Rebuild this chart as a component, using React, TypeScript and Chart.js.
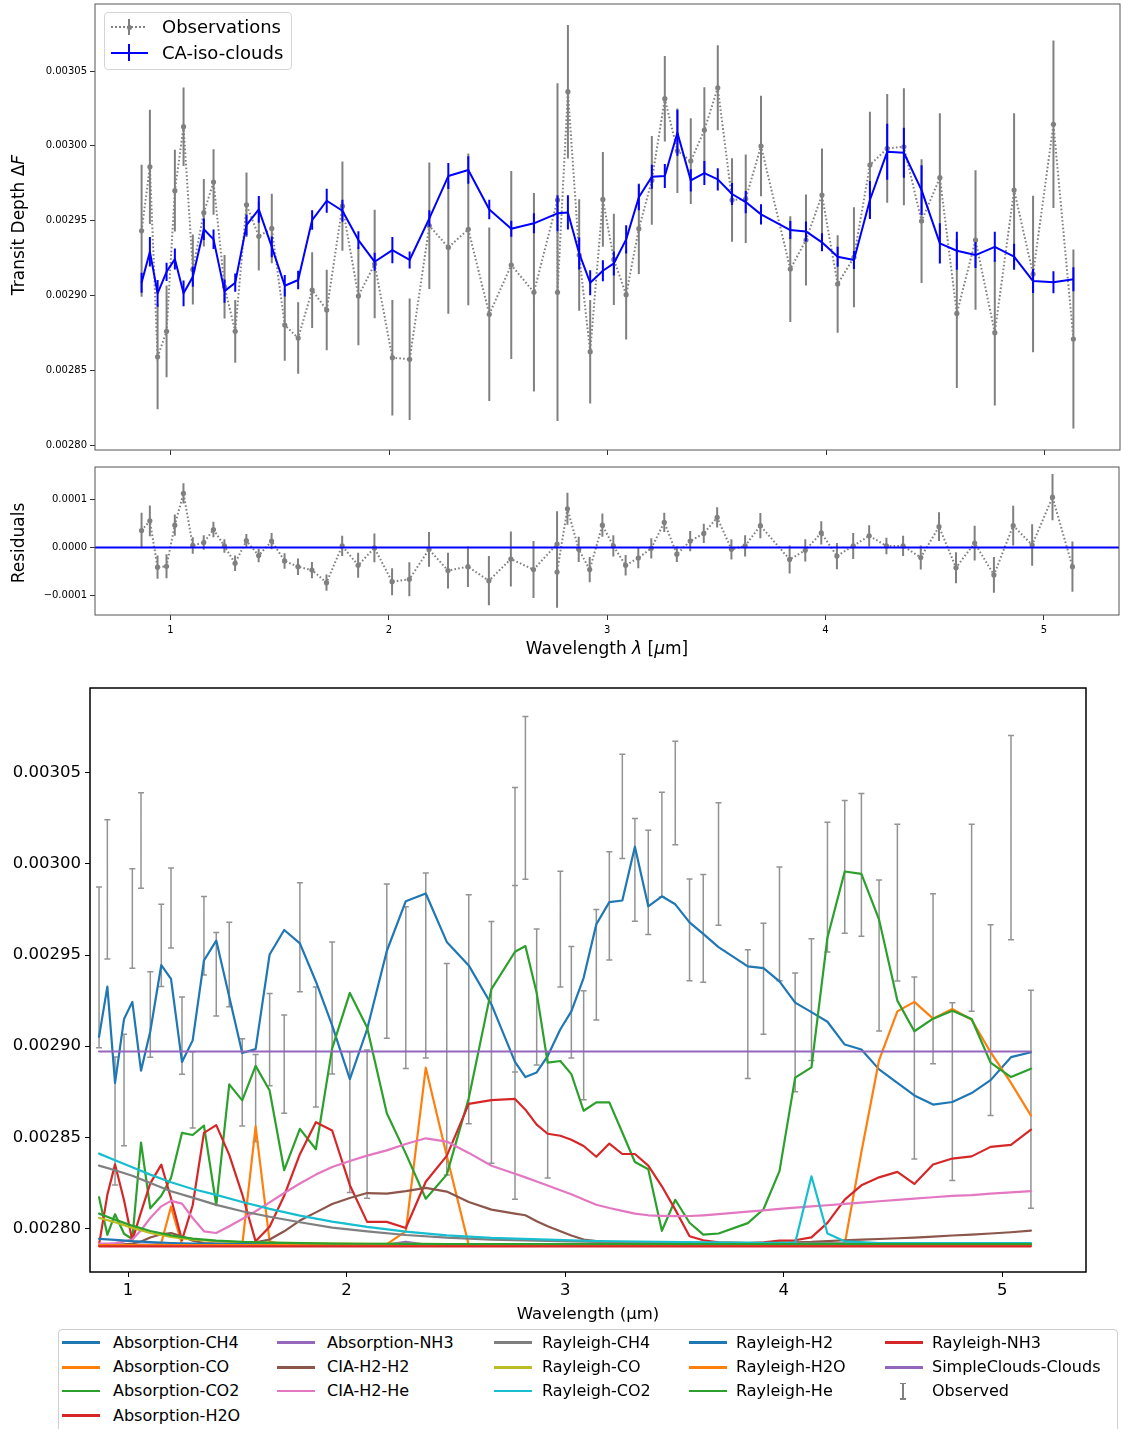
import React, { useEffect, useRef } from "react";
import { Chart, registerables } from "chart.js";

Chart.register(...registerables);

const FONT = "'DejaVu Sans', 'Liberation Sans', sans-serif";

// ---------------- data ----------------
const WAVELENGTH = [0.8674, 0.9054, 0.9406, 0.9817, 1.0197, 1.0594, 1.1019, 1.1522, 1.1966, 1.2469, 1.2958, 1.3474, 1.4037, 1.4631, 1.5225, 1.5838, 1.6478, 1.7145, 1.7863, 1.8594, 1.9339, 2.0149, 2.0939, 2.184, 2.2709, 2.3623, 2.4583, 2.5589, 2.6626, 2.7705, 2.7705, 2.8181, 2.8697, 2.92, 2.9781, 3.0283, 3.0846, 3.1426, 3.2021, 3.2615, 3.3191, 3.3803, 3.4425, 3.5038, 3.5691, 3.6318, 3.7017, 3.8357, 3.9074, 3.9806, 4.0523, 4.1269, 4.2, 4.2791, 4.3554, 4.4363, 4.52, 4.5977, 4.6832, 4.7714, 4.8597, 4.9465, 5.0398, 5.1311];

const OBS_DEPTH = [0.0029432, 0.002986, 0.002859, 0.002876, 0.00297, 0.0030128, 0.0029174, 0.0029553, 0.0029758, 0.0029058, 0.002876, 0.0029606, 0.0029395, 0.0029448, 0.0028802, 0.0028715, 0.0029036, 0.0028902, 0.0029597, 0.0028996, 0.002921, 0.0028584, 0.0028573, 0.0029466, 0.0029321, 0.0029442, 0.0028874, 0.0029203, 0.0029021, 0.0029638, 0.0029021, 0.0030362, 0.002927, 0.0028624, 0.0029642, 0.0029241, 0.0029005, 0.0029446, 0.0029769, 0.0030315, 0.0029967, 0.0029898, 0.0030105, 0.0030388, 0.0029638, 0.0029646, 0.0029999, 0.0029176, 0.002937, 0.0029671, 0.0029076, 0.0029255, 0.0029872, 0.0029983, 0.0029994, 0.0029497, 0.0029787, 0.002888, 0.002937, 0.0028751, 0.0029704, 0.0029143, 0.0030144, 0.0028709];

const OBS_ERR = [4.41e-5, 3.82e-5, 3.51e-5, 3.06e-5, 2.73e-5, 2.62e-5, 2.34e-5, 2.26e-5, 2.19e-5, 2.12e-5, 2.09e-5, 2.15e-5, 2.29e-5, 2.32e-5, 2.39e-5, 2.39e-5, 2.53e-5, 2.69e-5, 2.99e-5, 3.29e-5, 3.62e-5, 3.86e-5, 4.06e-5, 4.23e-5, 4.43e-5, 5.07e-5, 5.8e-5, 6.28e-5, 6.63e-5, 7.8e-5, 8.6e-5, 4.46e-5, 3.73e-5, 3.46e-5, 3.17e-5, 3.05e-5, 2.99e-5, 3.03e-5, 2.97e-5, 2.86e-5, 2.82e-5, 2.86e-5, 2.87e-5, 2.84e-5, 2.79e-5, 2.96e-5, 3.36e-5, 3.53e-5, 3.04e-5, 3.12e-5, 3.26e-5, 3.34e-5, 3.56e-5, 3.64e-5, 3.91e-5, 4.14e-5, 4.3e-5, 4.99e-5, 4.66e-5, 4.87e-5, 5.13e-5, 5.23e-5, 5.6e-5, 5.98e-5];

const MODEL_DEPTH = [0.0029085, 0.0029292, 0.0029014, 0.0029158, 0.0029243, 0.0029014, 0.0029125, 0.0029442, 0.0029375, 0.0029029, 0.0029085, 0.002947, 0.0029575, 0.0029325, 0.0029065, 0.0029103, 0.0029504, 0.0029633, 0.0029566, 0.002937, 0.0029225, 0.0029303, 0.0029237, 0.0029515, 0.0029798, 0.0029838, 0.0029575, 0.0029446, 0.0029482, 0.0029549, 0.0029549, 0.0029555, 0.0029281, 0.0029085, 0.0029165, 0.0029214, 0.0029375, 0.0029656, 0.0029793, 0.0029798, 0.0030087, 0.0029769, 0.0029818, 0.0029776, 0.0029678, 0.0029624, 0.0029542, 0.0029437, 0.0029428, 0.0029355, 0.0029259, 0.0029237, 0.0029638, 0.002996, 0.0029954, 0.0029704, 0.0029348, 0.0029299, 0.002927, 0.0029325, 0.0029259, 0.0029096, 0.0029088, 0.0029108];

const MODEL_ERR = [0.67e-5, 0.98e-5, 0.89e-5, 0.61e-5, 0.7e-5, 0.86e-5, 0.67e-5, 0.72e-5, 0.65e-5, 0.78e-5, 0.61e-5, 0.7e-5, 0.89e-5, 0.69e-5, 0.72e-5, 0.62e-5, 0.65e-5, 0.8e-5, 0.74e-5, 0.59e-5, 0.6e-5, 0.87e-5, 0.57e-5, 0.55e-5, 0.87e-5, 0.92e-5, 0.65e-5, 0.53e-5, 0.67e-5, 1.2e-5, 1.2e-5, 1.14e-5, 1.07e-5, 0.84e-5, 0.7e-5, 0.8e-5, 0.94e-5, 0.87e-5, 0.8e-5, 0.8e-5, 1.54e-5, 0.74e-5, 0.8e-5, 0.74e-5, 0.74e-5, 0.74e-5, 0.67e-5, 0.6e-5, 0.67e-5, 0.6e-5, 0.67e-5, 0.6e-5, 1.27e-5, 1.87e-5, 1.67e-5, 1.67e-5, 1.34e-5, 1.27e-5, 0.87e-5, 1.0e-5, 0.87e-5, 0.8e-5, 0.74e-5, 0.8e-5];

const RESIDUAL = [0.35e-4, 0.55e-4, -0.41e-4, -0.39e-4, 0.46e-4, 1.12e-4, 0.04e-4, 0.1e-4, 0.37e-4, 0.03e-4, -0.33e-4, 0.14e-4, -0.17e-4, 0.13e-4, -0.28e-4, -0.4e-4, -0.47e-4, -0.73e-4, 0.03e-4, -0.37e-4, -0.01e-4, -0.71e-4, -0.66e-4, -0.04e-4, -0.48e-4, -0.4e-4, -0.69e-4, -0.24e-4, -0.46e-4, 0.07e-4, -0.51e-4, 0.8e-4, -0.04e-4, -0.46e-4, 0.46e-4, 0.03e-4, -0.37e-4, -0.22e-4, -0.02e-4, 0.52e-4, -0.14e-4, 0.13e-4, 0.29e-4, 0.62e-4, -0.04e-4, 0.03e-4, 0.45e-4, -0.25e-4, -0.06e-4, 0.3e-4, -0.18e-4, 0.03e-4, 0.24e-4, 0.03e-4, 0.03e-4, -0.21e-4, 0.43e-4, -0.42e-4, 0.09e-4, -0.57e-4, 0.45e-4, 0.05e-4, 1.04e-4, -0.4e-4];

const RESIDUAL_ERR = [0.37e-4, 0.32e-4, 0.24e-4, 0.25e-4, 0.22e-4, 0.21e-4, 0.17e-4, 0.15e-4, 0.16e-4, 0.14e-4, 0.16e-4, 0.14e-4, 0.14e-4, 0.17e-4, 0.16e-4, 0.17e-4, 0.17e-4, 0.17e-4, 0.21e-4, 0.26e-4, 0.3e-4, 0.28e-4, 0.35e-4, 0.36e-4, 0.37e-4, 0.42e-4, 0.51e-4, 0.57e-4, 0.59e-4, 0.68e-4, 0.74e-4, 0.33e-4, 0.26e-4, 0.26e-4, 0.24e-4, 0.22e-4, 0.21e-4, 0.21e-4, 0.21e-4, 0.2e-4, 0.16e-4, 0.21e-4, 0.2e-4, 0.21e-4, 0.21e-4, 0.22e-4, 0.26e-4, 0.29e-4, 0.23e-4, 0.24e-4, 0.27e-4, 0.27e-4, 0.22e-4, 0.17e-4, 0.21e-4, 0.25e-4, 0.3e-4, 0.32e-4, 0.36e-4, 0.37e-4, 0.41e-4, 0.43e-4, 0.48e-4, 0.52e-4];

// contributions (bottom panel), on WAVELENGTH
const ABS_CH4 = [0.0029051, 0.0029327, 0.0028799, 0.0029149, 0.0029243, 0.0028866, 0.0029082, 0.0029445, 0.0029369, 0.0028914, 0.0029032, 0.002947, 0.0029579, 0.0029271, 0.0028963, 0.0028984, 0.0029503, 0.0029637, 0.0029564, 0.0029355, 0.0029114, 0.002882, 0.0029093, 0.0029522, 0.0029795, 0.0029837, 0.0029572, 0.0029443, 0.0029229, 0.0028914, 0.0028914, 0.0028831, 0.0028856, 0.0028946, 0.0029093, 0.0029191, 0.0029375, 0.0029669, 0.002979, 0.0029799, 0.0030094, 0.0029767, 0.0029822, 0.0029778, 0.0029679, 0.0029616, 0.0029543, 0.0029438, 0.0029428, 0.0029355, 0.0029239, 0.0029187, 0.0029134, 0.0029009, 0.0028982, 0.0028873, 0.0028799, 0.002873, 0.002868, 0.0028694, 0.0028743, 0.0028814, 0.002894, 0.0028967];

const ABS_CO = [0.0027908, 0.0027908, 0.0027908, 0.0027908, 0.0027908, 0.0027908, 0.0027908, 0.0027921, 0.002812, 0.0027915, 0.0027908, 0.0027908, 0.0027908, 0.0027908, 0.0027908, 0.002856, 0.002793, 0.0027908, 0.0027908, 0.0027908, 0.0027908, 0.0027908, 0.0027908, 0.0027915, 0.0027985, 0.0028882, 0.00284, 0.002791, 0.0027908, 0.0027908, 0.0027908, 0.0027908, 0.0027908, 0.0027908, 0.0027908, 0.0027908, 0.0027908, 0.0027908, 0.0027908, 0.0027908, 0.0027908, 0.0027908, 0.0027908, 0.0027908, 0.0027908, 0.0027908, 0.0027908, 0.0027908, 0.0027908, 0.0027908, 0.0027908, 0.0027908, 0.0027908, 0.0027915, 0.002842, 0.0028924, 0.0029191, 0.0029243, 0.0029151, 0.0029204, 0.0029145, 0.0028967, 0.0028799, 0.0028619];

const ABS_CO2 = [0.0028172, 0.0027966, 0.0028079, 0.0027972, 0.0027943, 0.0028472, 0.0028111, 0.002818, 0.0028278, 0.0028525, 0.0028513, 0.0028565, 0.0028128, 0.0028791, 0.0028703, 0.0028892, 0.0028757, 0.002832, 0.0028547, 0.0028435, 0.0028988, 0.0029292, 0.0029103, 0.0028632, 0.0028411, 0.0028164, 0.0028296, 0.0028715, 0.0029313, 0.0029518, 0.0029518, 0.0029549, 0.0029292, 0.002891, 0.0028919, 0.0028847, 0.0028646, 0.0028692, 0.0028692, 0.0028527, 0.0028365, 0.0028325, 0.0027988, 0.0028158, 0.0028032, 0.0027967, 0.0027973, 0.002803, 0.0028106, 0.0028315, 0.0028828, 0.0028884, 0.0029595, 0.0029958, 0.0029945, 0.0029694, 0.002925, 0.0029082, 0.0029151, 0.0029195, 0.0029149, 0.002891, 0.0028831, 0.0028877];

const ABS_H2O = [0.0027912, 0.0028185, 0.0028352, 0.0028155, 0.0027935, 0.002809, 0.0028248, 0.0028351, 0.0028166, 0.0027937, 0.0028128, 0.0028525, 0.0028567, 0.0028404, 0.0028188, 0.002793, 0.002801, 0.002818, 0.0028408, 0.0028583, 0.0028538, 0.0028238, 0.0028037, 0.0028037, 0.0028003, 0.0028257, 0.0028399, 0.0028684, 0.0028704, 0.0028711, 0.0028711, 0.0028652, 0.002857, 0.002852, 0.0028509, 0.0028487, 0.0028453, 0.0028394, 0.0028466, 0.0028409, 0.0028409, 0.0028345, 0.0028232, 0.0028104, 0.0027958, 0.0027936, 0.0027925, 0.0027921, 0.0027925, 0.0027934, 0.0027936, 0.0027952, 0.0028031, 0.0028159, 0.0028237, 0.0028281, 0.0028311, 0.0028245, 0.0028351, 0.0028384, 0.0028396, 0.0028448, 0.0028459, 0.0028543];

const CIA_H2_H2 = [0.0027912, 0.0027912, 0.0027912, 0.0027914, 0.0027918, 0.0027929, 0.0027951, 0.0027969, 0.0027976, 0.0027958, 0.0027934, 0.0027921, 0.0027918, 0.0027918, 0.002792, 0.0027925, 0.002794, 0.0027985, 0.0028044, 0.0028089, 0.0028135, 0.0028168, 0.0028195, 0.0028192, 0.0028205, 0.0028223, 0.0028203, 0.0028146, 0.0028104, 0.0028082, 0.0028082, 0.0028073, 0.002804, 0.0028013, 0.0027985, 0.0027962, 0.002794, 0.0027931, 0.0027925, 0.0027922, 0.0027921, 0.002792, 0.002792, 0.002792, 0.002792, 0.002792, 0.002792, 0.002792, 0.0027921, 0.0027923, 0.0027925, 0.0027927, 0.0027931, 0.0027936, 0.002794, 0.0027943, 0.0027947, 0.0027951, 0.0027956, 0.0027962, 0.0027967, 0.0027973, 0.002798, 0.0027989];

const CIA_H2_HE = [0.0027918, 0.0027918, 0.0027921, 0.0027929, 0.002794, 0.0027991, 0.0028058, 0.0028122, 0.0028152, 0.0028137, 0.0028058, 0.0027985, 0.0027976, 0.0028013, 0.0028053, 0.0028095, 0.0028144, 0.0028195, 0.0028247, 0.0028296, 0.0028338, 0.0028371, 0.00284, 0.0028429, 0.0028464, 0.0028495, 0.0028477, 0.0028415, 0.0028345, 0.0028301, 0.0028301, 0.0028281, 0.0028258, 0.0028236, 0.002821, 0.0028188, 0.002816, 0.0028131, 0.0028113, 0.0028097, 0.0028082, 0.0028073, 0.002807, 0.0028068, 0.0028069, 0.0028073, 0.0028079, 0.0028093, 0.00281, 0.0028108, 0.0028115, 0.0028122, 0.0028128, 0.0028135, 0.0028142, 0.002815, 0.0028157, 0.0028164, 0.0028172, 0.0028179, 0.0028184, 0.0028192, 0.0028199, 0.0028205];

// smooth contributions, read at fewer wavelengths
const RAYLEIGH_WL = [0.8674, 0.9406, 1.0197, 1.1019, 1.1966, 1.2958, 1.4037, 1.5225, 1.6478, 1.7863, 1.9339, 2.0939, 2.2709, 2.4583, 2.6626, 2.92, 3.1426, 3.6318, 4.0523, 4.4363, 5.1311];
const RAY_CH4 = [0.0028345, 0.002832, 0.002829, 0.002825, 0.0028205, 0.002817, 0.002813, 0.0028095, 0.0028065, 0.0028035, 0.0028005, 0.0027985, 0.0027965, 0.002795, 0.002794, 0.0027932, 0.0027927, 0.0027922, 0.002792, 0.0027919, 0.0027917];
const RAY_CO = [0.0028059, 0.0028035, 0.0028004, 0.0027976, 0.0027954, 0.002794, 0.0027931, 0.0027925, 0.0027922, 0.002792, 0.0027918, 0.0027917, 0.0027916, 0.0027915, 0.0027915, 0.0027914, 0.0027914, 0.0027914, 0.0027914, 0.0027914, 0.0027914];
const RAY_HE = [0.0028082, 0.0028049, 0.0028016, 0.0027987, 0.0027963, 0.0027945, 0.0027934, 0.0027927, 0.0027923, 0.002792, 0.0027918, 0.0027917, 0.0027916, 0.0027915, 0.0027915, 0.0027915, 0.0027915, 0.0027915, 0.0027915, 0.0027915, 0.0027915];
const RAY_H2 = [0.0027944, 0.0027938, 0.0027931, 0.0027926, 0.0027921, 0.0027918, 0.0027916, 0.0027915, 0.0027914, 0.0027914, 0.0027913, 0.0027913, 0.0027913, 0.0027913, 0.0027913, 0.0027913, 0.0027913, 0.0027913, 0.0027913, 0.0027913, 0.0027913];
const RAY_CO2_WL = [0.8674, 0.9406, 1.0197, 1.1019, 1.1966, 1.2958, 1.4037, 1.5225, 1.6478, 1.7863, 1.9339, 2.0939, 2.2709, 2.4583, 2.6626, 2.92, 3.1426, 3.6318, 4.0523, 4.1269, 4.2, 4.2791, 4.4363, 5.1311];
const RAY_CO2 = [0.0028411, 0.0028375, 0.0028336, 0.0028296, 0.0028254, 0.0028217, 0.0028185, 0.0028146, 0.0028108, 0.0028071, 0.0028038, 0.0028009, 0.0027983, 0.0027963, 0.0027949, 0.002794, 0.0027932, 0.0027925, 0.0027921, 0.0028287, 0.0027973, 0.002793, 0.0027921, 0.002792];
const NH3_WL = [0.8674, 2.184, 2.2709, 2.3623, 5.1311];
const ABS_NH3 = [0.0027912, 0.0027912, 0.0027927, 0.0027912, 0.0027912];
const FLAT_WL = [0.8674, 5.1311];
const RAY_H2O = [0.002791, 0.002791];
const RAY_NH3 = [0.0027903, 0.0027903];
const CLOUDS = [0.0028971, 0.0028971];

// axes
const X_TICKS = [1, 2, 3, 4, 5];
const TOP_X_RANGE = [0.6542, 5.3443];
const TOP_Y_RANGE = [0.0027967, 0.0030948];
const DEPTH_TICKS = [0.0028, 0.00285, 0.0029, 0.00295, 0.003, 0.00305];
const RES_Y_RANGE = [-0.00014, 0.0001665];
const RES_TICKS = [-0.0001, 0, 0.0001];
const BOT_X_RANGE = [0.826, 5.383];
const BOT_Y_RANGE = [0.0027762, 0.0030964];

const CONTRIB: any[] = [
  { label: "Absorption-CH4", color: "#1f77b4", x: WAVELENGTH, y: ABS_CH4 },
  { label: "Absorption-CO", color: "#ff7f0e", x: WAVELENGTH, y: ABS_CO },
  { label: "Absorption-CO2", color: "#2ca02c", x: WAVELENGTH, y: ABS_CO2 },
  { label: "Absorption-H2O", color: "#d62728", x: WAVELENGTH, y: ABS_H2O },
  { label: "Absorption-NH3", color: "#9467bd", x: NH3_WL, y: ABS_NH3 },
  { label: "CIA-H2-H2", color: "#8c564b", x: WAVELENGTH, y: CIA_H2_H2 },
  { label: "CIA-H2-He", color: "#e377c2", x: WAVELENGTH, y: CIA_H2_HE },
  { label: "Rayleigh-CH4", color: "#7f7f7f", x: RAYLEIGH_WL, y: RAY_CH4 },
  { label: "Rayleigh-CO", color: "#bcbd22", x: RAYLEIGH_WL, y: RAY_CO },
  { label: "Rayleigh-CO2", color: "#17becf", x: RAY_CO2_WL, y: RAY_CO2 },
  { label: "Rayleigh-H2", color: "#1f77b4", x: RAYLEIGH_WL, y: RAY_H2 },
  { label: "Rayleigh-H2O", color: "#ff7f0e", x: FLAT_WL, y: RAY_H2O },
  { label: "Rayleigh-He", color: "#2ca02c", x: RAYLEIGH_WL, y: RAY_HE },
  { label: "Rayleigh-NH3", color: "#d62728", x: FLAT_WL, y: RAY_NH3 },
  { label: "SimpleClouds-Clouds", color: "#9467bd", x: FLAT_WL, y: CLOUDS },
];

// ---------------- helpers ----------------
const pts = (xs: number[], ys: number[]) => xs.map((x, i) => ({ x, y: ys[i] }));

function errPlugin(sets: any) {
  return {
    id: "errbars",
    beforeDatasetDraw(chart: any, args: any) {
      const s = sets[args.index];
      if (!s) return;
      const { ctx, chartArea: a, scales } = chart;
      const xs = scales.x, ys = scales.y;
      ctx.save();
      ctx.beginPath();
      ctx.rect(a.left, a.top, a.right - a.left, a.bottom - a.top);
      ctx.clip();
      ctx.beginPath();
      ctx.strokeStyle = s.color;
      ctx.lineWidth = s.width;
      s.xs.forEach((xv: number, i: number) => {
        const x = xs.getPixelForValue(xv);
        const y1 = ys.getPixelForValue(s.ys[i] - s.err[i]);
        const y2 = ys.getPixelForValue(s.ys[i] + s.err[i]);
        ctx.moveTo(x, y1);
        ctx.lineTo(x, y2);
        if (s.cap) {
          ctx.moveTo(x - s.cap, y1); ctx.lineTo(x + s.cap, y1);
          ctx.moveTo(x - s.cap, y2); ctx.lineTo(x + s.cap, y2);
        }
      });
      ctx.stroke();
      ctx.restore();
    },
  };
}

function framePlugin(color: string, width: number) {
  return {
    id: "frame",
    afterDraw(chart: any) {
      const { ctx, chartArea: a } = chart;
      ctx.save();
      ctx.strokeStyle = color;
      ctx.lineWidth = width;
      ctx.strokeRect(a.left, a.top, a.right - a.left, a.bottom - a.top);
      ctx.restore();
    },
  };
}

function axis(o: any) {
  return {
    type: "linear",
    min: o.range[0],
    max: o.range[1],
    afterBuildTicks: (s: any) => { s.ticks = o.ticks.map((v: number) => ({ value: v })); },
    afterFit: (s: any) => {
      if (o.isX) s.height = o.size; else s.width = o.size;
      s.paddingTop = 0; s.paddingBottom = 0; s.paddingLeft = 0; s.paddingRight = 0;
    },
    ticks: {
      autoSkip: false, maxRotation: 0, minRotation: 0, padding: o.pad,
      color: "#000", font: { family: FONT, size: o.fontSize },
      callback: (v: number) => (o.fmt ? o.fmt(v) : ""),
    },
    grid: { display: true, drawOnChartArea: false, drawTicks: true, tickLength: 5, tickWidth: 1, tickColor: o.color, color: o.color },
    border: { display: false },
  };
}

const baseOptions = (padding: any, scales: any) => ({
  responsive: false,
  maintainAspectRatio: false,
  animation: false,
  devicePixelRatio: 1,
  events: [],
  layout: { autoPadding: false, padding },
  plugins: { legend: { display: false }, tooltip: { enabled: false }, title: { display: false } },
  scales,
});

const fmtDepth = (v: number) => v.toFixed(5);
const fmtRes = (v: number) => (Math.abs(v) < 1e-9 ? "0.0000" : (v < 0 ? "\u2212" : "") + Math.abs(v).toFixed(4));
const fmtInt = (v: number) => String(Math.round(v));

const GRAY = "#808080";

function topConfig(): any {
  return {
    type: "line",
    data: {
      datasets: [
        { label: "Observations", data: pts(WAVELENGTH, OBS_DEPTH), borderColor: GRAY, borderWidth: 2, borderDash: [1.6, 2.2], pointRadius: 2.6, pointBackgroundColor: GRAY, pointBorderWidth: 0, order: 2 },
        { label: "CA-iso-clouds", data: pts(WAVELENGTH, MODEL_DEPTH), borderColor: "#0000ff", borderWidth: 2, pointRadius: 0, borderJoinStyle: "round", order: 1 },
      ],
    },
    options: baseOptions({ top: 4, right: 1, left: 0, bottom: 0 }, {
      x: axis({ range: TOP_X_RANGE, ticks: X_TICKS, isX: true, size: 10, pad: 4, fontSize: 10, color: "#333", fmt: null }),
      y: axis({ range: TOP_Y_RANGE, ticks: DEPTH_TICKS, isX: false, size: 95, pad: 3, fontSize: 10, color: "#333", fmt: fmtDepth }),
    }),
    plugins: [
      errPlugin({
        0: { xs: WAVELENGTH, ys: OBS_DEPTH, err: OBS_ERR, color: GRAY, width: 2 },
        1: { xs: WAVELENGTH, ys: MODEL_DEPTH, err: MODEL_ERR, color: "#0000ff", width: 2 },
      }),
      framePlugin("#555", 1),
    ],
  };
}

function resConfig(): any {
  return {
    type: "line",
    data: {
      datasets: [
        { label: "Residuals", data: pts(WAVELENGTH, RESIDUAL), borderColor: GRAY, borderWidth: 2, borderDash: [1.6, 2.2], pointRadius: 2.6, pointBackgroundColor: GRAY, pointBorderWidth: 0, order: 2 },
        { label: "zero", data: pts(TOP_X_RANGE, [0, 0]), borderColor: "#0000ff", borderWidth: 2, pointRadius: 0, order: 1 },
      ],
    },
    options: baseOptions({ top: 7, right: 2, left: 0, bottom: 0 }, {
      x: axis({ range: TOP_X_RANGE, ticks: X_TICKS, isX: true, size: 45, pad: 4, fontSize: 10, color: "#333", fmt: fmtInt }),
      y: axis({ range: RES_Y_RANGE, ticks: RES_TICKS, isX: false, size: 95, pad: 3, fontSize: 10, color: "#333", fmt: fmtRes }),
    }),
    plugins: [
      errPlugin({ 0: { xs: WAVELENGTH, ys: RESIDUAL, err: RESIDUAL_ERR, color: GRAY, width: 2 } }),
      framePlugin("#555", 1),
    ],
  };
}

function bottomConfig(): any {
  const n = CONTRIB.length;
  const datasets: any[] = [
    { label: "Observed", data: pts(WAVELENGTH, OBS_DEPTH), showLine: false, pointRadius: 0, borderWidth: 0, order: n + 1 },
  ];
  CONTRIB.forEach((c, i) => {
    datasets.push({ label: c.label, data: pts(c.x, c.y), borderColor: c.color, borderWidth: 2.2, pointRadius: 0, borderJoinStyle: "round", borderCapStyle: "round", order: n - i });
  });
  return {
    type: "line",
    data: { datasets },
    options: baseOptions({ top: 28, right: 35, left: 0, bottom: 0 }, {
      x: axis({ range: BOT_X_RANGE, ticks: X_TICKS, isX: true, size: 38, pad: 4, fontSize: 16.5, color: "#000", fmt: fmtInt }),
      y: axis({ range: BOT_Y_RANGE, ticks: DEPTH_TICKS, isX: false, size: 90, pad: 4, fontSize: 16.5, color: "#000", fmt: fmtDepth }),
    }),
    plugins: [
      errPlugin({ 0: { xs: WAVELENGTH, ys: OBS_DEPTH, err: OBS_ERR, color: "rgba(128,128,128,0.85)", width: 1.5, cap: 3 } }),
      framePlugin("#000", 1.5),
    ],
  };
}

function ChartCanvas(props: { left: number; top: number; width: number; height: number; make: () => any }) {
  const ref = useRef<HTMLCanvasElement>(null);
  useEffect(() => {
    const chart = new Chart(ref.current as HTMLCanvasElement, props.make());
    return () => chart.destroy();
  }, []);
  return (
    <canvas
      ref={ref}
      width={props.width}
      height={props.height}
      style={{ position: "absolute", left: props.left, top: props.top, width: props.width, height: props.height }}
    />
  );
}

const textStyle = (size: number): any => ({ position: "absolute", fontFamily: FONT, fontSize: size, color: "#000", whiteSpace: "nowrap", lineHeight: 1 });

const LEG_COL_GLYPH = [62, 277, 494, 689, 885];
const LEG_COL_TEXT = [113, 327, 542, 736, 932];
const LEG_ROW_Y = [1342.7, 1367.3, 1391, 1415.7];

export default function App() {
  useEffect(() => {
    document.body.style.margin = "0";
    document.body.style.overflow = "hidden";
  }, []);

  const legendItems = [...CONTRIB.map((c) => ({ label: c.label, color: c.color, observed: false })), { label: "Observed", color: GRAY, observed: true }];
  const colSizes = [4, 3, 3, 3, 3];
  const placed: any[] = [];
  let k = 0;
  colSizes.forEach((sz, c) => {
    for (let r = 0; r < sz; r++) placed.push({ ...legendItems[k++], c, r });
  });

  return (
    <div style={{ position: "absolute", left: 0, top: 0, width: 1121, height: 1429, overflow: "hidden", background: "#fff" }}>
      <ChartCanvas left={0} top={0} width={1121} height={460} make={topConfig} />
      <ChartCanvas left={0} top={460} width={1121} height={200} make={resConfig} />
      <ChartCanvas left={0} top={660} width={1121} height={650} make={bottomConfig} />

      {/* top legend */}
      <div style={{ position: "absolute", left: 104, top: 12, width: 188, height: 58, border: "1px solid #d5d5d5", borderRadius: 4, background: "rgba(255,255,255,0.85)", boxSizing: "border-box" }} />
      <div style={{ position: "absolute", left: 111, top: 26, width: 36, height: 2, background: "repeating-linear-gradient(to right, #808080 0 2px, transparent 2px 4px)" }} />
      <div style={{ position: "absolute", left: 128, top: 19, width: 2, height: 16, background: GRAY }} />
      <div style={{ position: "absolute", left: 126.5, top: 24.5, width: 5, height: 5, borderRadius: "50%", background: GRAY }} />
      <div style={{ ...textStyle(18), left: 162, top: 27, transform: "translateY(-50%)" }}>Observations</div>
      <div style={{ position: "absolute", left: 111, top: 52, width: 37, height: 2, background: "#0000ff" }} />
      <div style={{ position: "absolute", left: 128, top: 44, width: 2, height: 17, background: "#0000ff" }} />
      <div style={{ ...textStyle(18), left: 162, top: 53, transform: "translateY(-50%)" }}>CA-iso-clouds</div>

      {/* axis labels */}
      <div style={{ ...textStyle(17), left: 18, top: 225, transform: "translate(-50%,-50%) rotate(-90deg)" }}>
        Transit Depth Δ<i>F</i>
      </div>
      <div style={{ ...textStyle(17), left: 18, top: 543, transform: "translate(-50%,-50%) rotate(-90deg)" }}>Residuals</div>
      <div style={{ ...textStyle(17), left: 607, top: 648, transform: "translate(-50%,-50%)" }}>
        Wavelength <i>λ</i> [<i>μ</i>m]
      </div>
      <div style={{ ...textStyle(16.5), left: 588, top: 1314, transform: "translate(-50%,-50%)" }}>Wavelength (μm)</div>

      {/* bottom legend */}
      <div style={{ position: "absolute", left: 58, top: 1329, width: 1060, height: 120, border: "1px solid #cfcfcf", borderRadius: 4, background: "#fff", boxSizing: "border-box" }} />
      {placed.map((it, i) => {
        const y = LEG_ROW_Y[it.r];
        const gx = LEG_COL_GLYPH[it.c];
        return (
          <React.Fragment key={i}>
            {it.observed ? (
              <>
                <div style={{ position: "absolute", left: gx + 17, top: y - 8, width: 1.5, height: 16, background: GRAY }} />
                <div style={{ position: "absolute", left: gx + 14.5, top: y - 8.5, width: 6.5, height: 1.5, background: GRAY }} />
                <div style={{ position: "absolute", left: gx + 14.5, top: y + 7, width: 6.5, height: 1.5, background: GRAY }} />
              </>
            ) : (
              <div style={{ position: "absolute", left: gx, top: y - 1.25, width: 38, height: 2.5, background: it.color }} />
            )}
            <div style={{ ...textStyle(16), left: LEG_COL_TEXT[it.c], top: y, transform: "translateY(-50%)" }}>{it.label}</div>
          </React.Fragment>
        );
      })}
    </div>
  );
}
